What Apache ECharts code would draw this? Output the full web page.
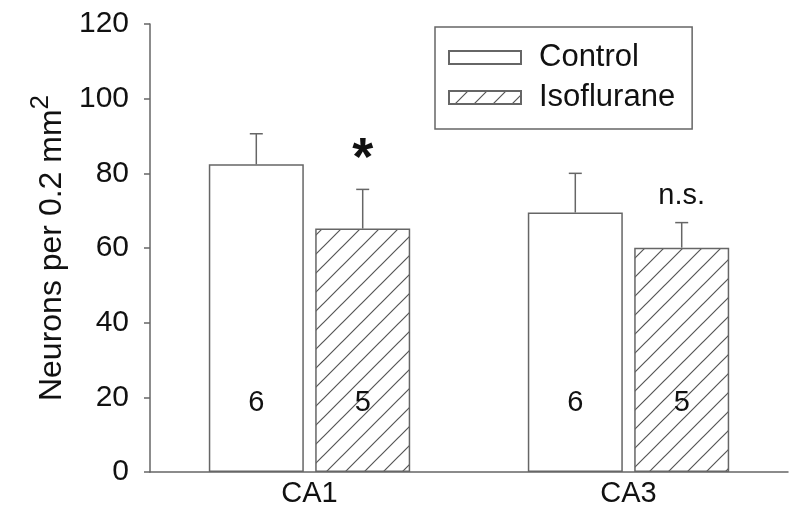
<!DOCTYPE html>
<html>
<head>
<meta charset="utf-8">
<script src="https://cdn.jsdelivr.net/npm/echarts@6/dist/echarts.min.js"></script>
<title>Neurons per 0.2 mm2</title>
</head>
<body style="margin:0;background:#fff">
<div id="main" style="width:800px;height:518px;"></div>
<script type="text/javascript">
// values
var regions = ['CA1', 'CA3'];
var controlMean = [82.4, 69.5];
var controlErr = [8.2, 10.5];
var controlN = [6, 6];
var isoMean = [65.2, 60.1];
var isoErr = [10.5, 6.7];
var isoN = [5, 5];
var isoNote = ['*', 'n.s.'];
var yTicks = [0, 20, 40, 60, 80, 100, 120];

var FONT = '"Liberation Sans", Arial, sans-serif';
var GREY = '#666';
var TXT = '#111';
var BAR_W = 95;
var BAR_GAP = 0.12;
var N_LABEL_Y = 18.5;   // the n counts sit low inside the bars

// diagonal hatch for the isoflurane bars
function hatch() {
  var c = document.createElement('canvas');
  c.width = 19; c.height = 19;
  var g = c.getContext('2d');
  g.fillStyle = '#fff';
  g.fillRect(0, 0, 19, 19);
  g.strokeStyle = '#555';
  g.lineWidth = 1.2;
  g.beginPath();
  g.moveTo(-1, 20); g.lineTo(20, -1);
  g.moveTo(-2, 2); g.lineTo(2, -2);
  g.moveTo(17, 21); g.lineTo(21, 17);
  g.stroke();
  return c;
}

// upper error bar + n label (+ optional note) for one bar of each group
function errorBars(side, means, errs, ns, notes) {
  return function (params, api) {
    var i = params.dataIndex;
    var off = side * BAR_W * (1 + BAR_GAP) / 2;
    var base = api.coord([i, means[i]]);
    var top = api.coord([i, means[i] + errs[i]]);
    var lab = api.coord([i, N_LABEL_Y]);
    var x = base[0] + off;
    var kids = [
      {type: 'line', shape: {x1: x, y1: base[1], x2: x, y2: top[1]}, style: {stroke: GREY, lineWidth: 1.5}},
      {type: 'line', shape: {x1: x - 6.5, y1: top[1], x2: x + 6.5, y2: top[1]}, style: {stroke: GREY, lineWidth: 1.5}},
      {type: 'text', x: x, y: lab[1], style: {text: String(ns[i]), font: '29px ' + FONT, fill: TXT, align: 'center', verticalAlign: 'middle'}}
    ];
    if (notes && notes[i]) {
      var star = notes[i] === '*';
      kids.push({type: 'text', x: x, y: top[1] - (star ? 2 : 12), style: {
        text: notes[i], font: (star ? 'bold 54px ' : '29px ') + FONT, fill: TXT, align: 'center', verticalAlign: 'bottom'}});
    }
    return {type: 'group', children: kids};
  };
}

var myChart = echarts.init(document.getElementById('main'));

var option = {
  backgroundColor: '#fff',
  animation: false,
  grid: {left: 150, right: 12, top: 24, bottom: 46, outerBoundsMode: 'none'},
  legend: {
    data: ['Control', 'Isoflurane'],
    orient: 'vertical',
    left: 435, top: 27,
    icon: 'rect',
    itemWidth: 72, itemHeight: 13, itemGap: 9,
    padding: [15, 17, 16, 13],
    borderColor: GREY, borderWidth: 1.5,
    selectedMode: false,
    textStyle: {fontSize: 31, fontFamily: FONT, color: TXT, lineHeight: 30, padding: [0, 0, 0, 13]}
  },
  xAxis: {
    type: 'category',
    data: regions,
    axisTick: {show: false},
    axisLine: {lineStyle: {color: GREY, width: 1.5}},
    axisLabel: {fontSize: 29, fontFamily: FONT, color: TXT, margin: 7}
  },
  yAxis: {
    type: 'value',
    min: yTicks[0], max: yTicks[yTicks.length - 1], interval: yTicks[1] - yTicks[0],
    splitLine: {show: false},
    axisLine: {show: true, lineStyle: {color: GREY, width: 1.5}},
    axisTick: {show: true, length: 6, lineStyle: {color: GREY, width: 1.5}},
    axisLabel: {fontSize: 30, fontFamily: FONT, color: TXT, margin: 21},
    name: 'Neurons per 0.2 mm{sup|2}',
    nameLocation: 'middle',
    nameGap: 68,
    nameTextStyle: {fontSize: 32, fontFamily: FONT, color: TXT,
      rich: {sup: {fontSize: 26, fontFamily: FONT, color: TXT, padding: [0, 0, 22, 0]}}}
  },
  series: [
    {
      name: 'Control', type: 'bar', data: controlMean,
      barWidth: BAR_W, barGap: (BAR_GAP * 100) + '%',
      itemStyle: {color: '#fff', borderColor: GREY, borderWidth: 1.5},
      emphasis: {disabled: true}
    },
    {
      name: 'Isoflurane', type: 'bar', data: isoMean,
      barWidth: BAR_W, barGap: (BAR_GAP * 100) + '%',
      itemStyle: {color: {image: hatch(), repeat: 'repeat'}, borderColor: GREY, borderWidth: 1.5},
      emphasis: {disabled: true}
    },
    {
      type: 'custom', z: 5, silent: true,
      data: controlMean.map(function (v, i) { return [i, v + controlErr[i]]; }),
      renderItem: errorBars(-1, controlMean, controlErr, controlN, null)
    },
    {
      type: 'custom', z: 5, silent: true,
      data: isoMean.map(function (v, i) { return [i, v + isoErr[i]]; }),
      renderItem: errorBars(1, isoMean, isoErr, isoN, isoNote)
    }
  ]
};

myChart.setOption(option);
</script>
</body>
</html>
